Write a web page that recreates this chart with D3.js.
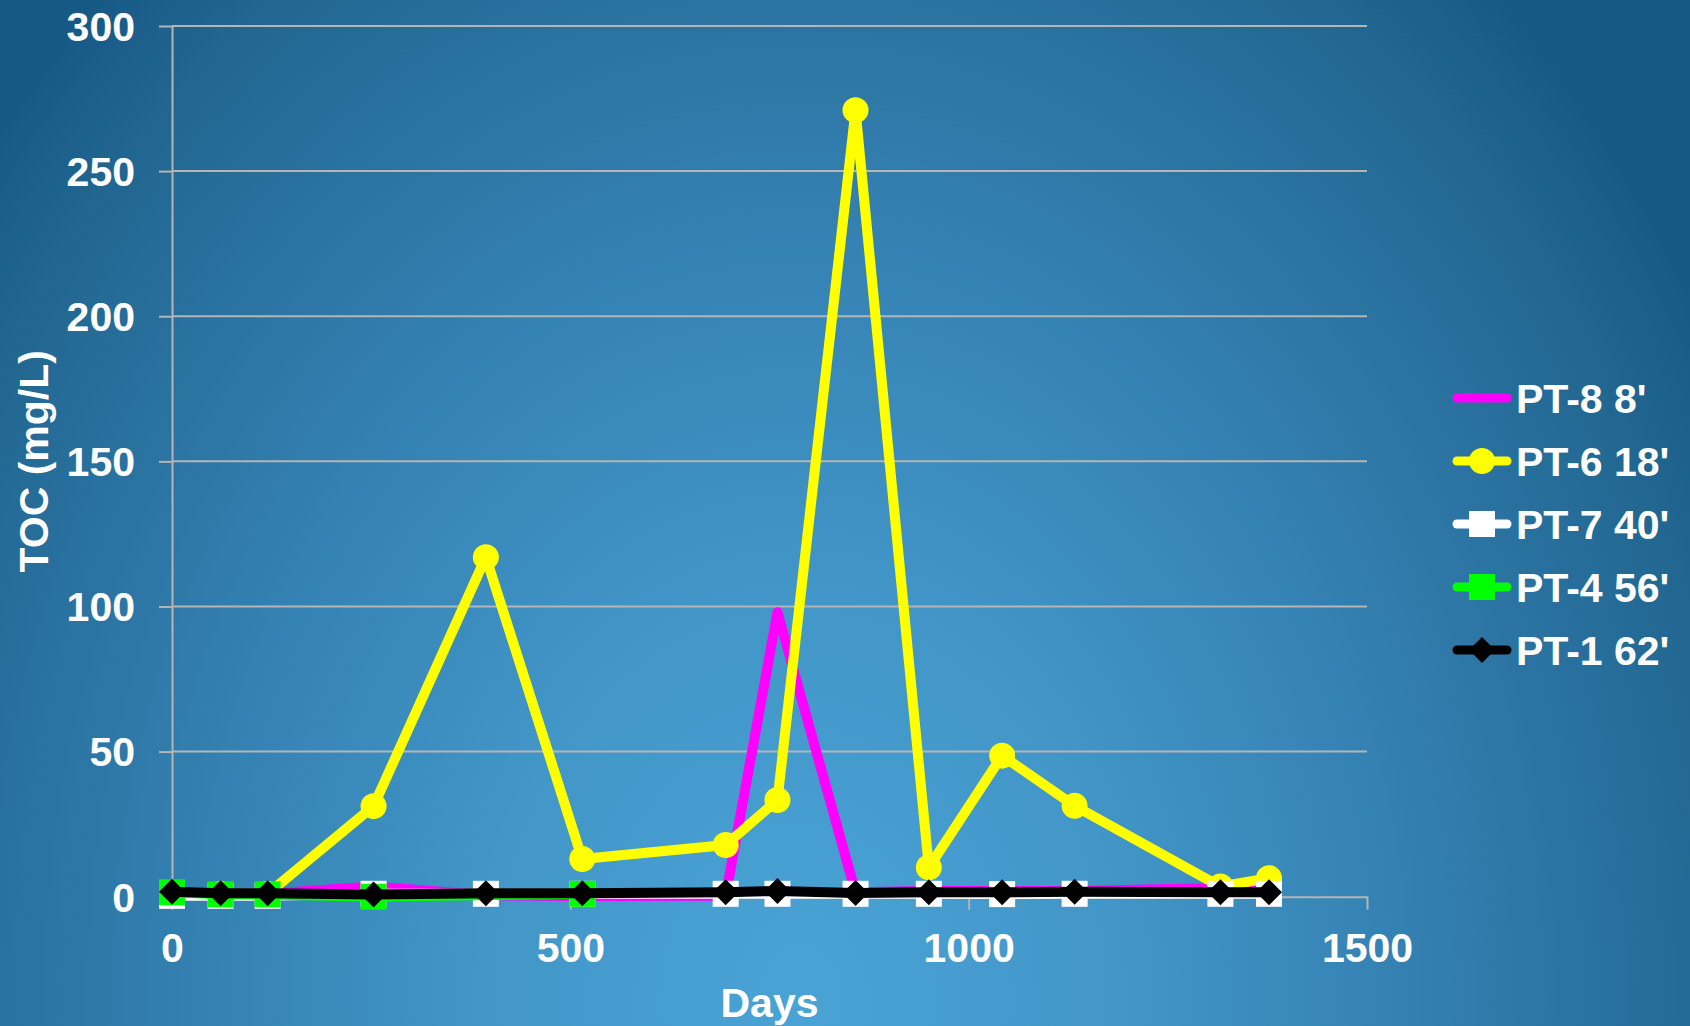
<!DOCTYPE html>
<html>
<head>
<meta charset="utf-8">
<script src="https://cdn.jsdelivr.net/npm/d3@7/dist/d3.min.js"></script>
<style>
  html, body { margin: 0; padding: 0; background: #1b5f8c; }
  svg { display: block; }
  text { font-family: "Liberation Sans", Arial, sans-serif; font-weight: bold; fill: #ffffff; }
</style>
</head>
<body>
<svg id="chart" width="1690" height="1026"></svg>
<script>
// Sampling days (x values shared by all wells)
const days = [0, 61, 120, 253, 394, 515, 695, 760, 858, 950, 1042, 1133, 1316, 1377];

// TOC (mg/L) per monitoring point; null = not sampled
const pt8 = [1, 1, 1, 3.5, 0.5, 0.2, 0.3, 98, 1.5, 2, 2, 2, 3, 1.5];
const pt6 = [1, 1, 1, 31.2, 117, 13, 17.8, 33.3, 271, 10.1, 48.6, 31.3, 3.5, 6.4];
const pt7 = [0.3, 0.3, 0.3, 1, 1, 1, 1, 1, 1, 1, 0.9, 1, 1, 1];
const pt4 = [1.5, 0.8, 0.8, 0, null, 1, null, null, null, null, null, null, null, null];
const pt1 = [1.7, 1.2, 1.2, 0.8, 1.2, 1.2, 1.5, 2.0, 1.3, 1.5, 1.5, 1.7, 1.5, 1.5];

const seriesNames = ["PT-8 8'", "PT-6 18'", "PT-7 40'", "PT-4 56'", "PT-1 62'"];
const seriesValues = [pt8, pt6, pt7, pt4, pt1];
const seriesColors = ["#ff00ff", "#ffff00", "#ffffff", "#00ff00", "#000000"];
const seriesMarkers = ["none", "circle", "square", "square", "diamond"];

const yTicks = [0, 50, 100, 150, 200, 250, 300];
const xTicks = [0, 500, 1000, 1500];

const W = 1690, H = 1026;
const plot = { left: 172, right: 1367, top: 26, bottom: 896.7 };
const FONT = 41;

const svg = d3.select("#chart");

// Background: soft elliptical glow, light at the bottom middle
const defs = svg.append("defs");
const grad = defs.append("radialGradient")
  .attr("id", "bg")
  .attr("gradientUnits", "userSpaceOnUse")
  .attr("cx", 0).attr("cy", 0).attr("r", 1)
  .attr("gradientTransform", "translate(800 1000) scale(1050 1350)");
[[0, "#4aa3d5"], [0.3, "#4296c8"], [0.55, "#3583b4"], [0.75, "#2a72a0"], [0.9, "#206690"], [1, "#175985"]]
  .forEach(([o, c]) => grad.append("stop").attr("offset", o).attr("stop-color", c));
svg.append("rect").attr("width", W).attr("height", H).attr("fill", "url(#bg)");

const x = d3.scaleLinear().domain([0, 1500]).range([plot.left, plot.right]);
const y = d3.scaleLinear().domain([0, 300]).range([plot.bottom, plot.top]);

const gridColor = "#b5b5b5";
const fontFamily = "'Liberation Sans', Arial, sans-serif";

// Horizontal gridlines
svg.append("g").selectAll("line").data(yTicks.filter(d => d > 0)).join("line")
  .attr("x1", plot.left).attr("x2", plot.right)
  .attr("y1", d => y(d)).attr("y2", d => y(d))
  .attr("stroke", gridColor).attr("stroke-width", 2);

// Y axis
const yAxis = svg.append("g")
  .attr("transform", `translate(${plot.left},0)`)
  .call(d3.axisLeft(y).tickValues(yTicks).tickFormat(d3.format("d"))
    .tickSize(13).tickSizeOuter(0).tickPadding(24));
yAxis.select(".domain").attr("stroke", gridColor).attr("stroke-width", 2);
yAxis.selectAll(".tick line").attr("stroke", gridColor).attr("stroke-width", 2);
yAxis.selectAll(".tick text")
  .attr("font-size", FONT).attr("dy", "0.35em").attr("fill", "#ffffff")
  .style("font-family", fontFamily).style("font-weight", "bold");

// X axis
const xAxis = svg.append("g")
  .attr("transform", `translate(0,${plot.bottom})`)
  .call(d3.axisBottom(x).tickValues(xTicks).tickFormat(d3.format("d"))
    .tickSize(13).tickSizeOuter(0).tickPadding(20));
xAxis.select(".domain").attr("stroke", gridColor).attr("stroke-width", 2);
xAxis.selectAll(".tick line").attr("stroke", gridColor).attr("stroke-width", 2);
xAxis.selectAll(".tick text")
  .attr("font-size", FONT).attr("y", 65).attr("dy", 0).attr("fill", "#ffffff")
  .style("font-family", fontFamily).style("font-weight", "bold");

// Axis titles
svg.append("text")
  .attr("x", (plot.left + plot.right) / 2).attr("y", 1017)
  .attr("text-anchor", "middle").attr("font-size", FONT)
  .text("Days");
svg.append("text")
  .attr("transform", `translate(48,${(plot.top + plot.bottom) / 2}) rotate(-90)`)
  .attr("text-anchor", "middle").attr("font-size", FONT)
  .text("TOC (mg/L)");

// Marker drawing helper
const MS = 13; // marker half-size
function drawMarker(g, type, cx, cy, color) {
  if (type === "circle") {
    g.append("circle").attr("cx", cx).attr("cy", cy).attr("r", MS).attr("fill", color);
  } else if (type === "square") {
    g.append("rect").attr("x", cx - MS).attr("y", cy - MS)
      .attr("width", 2 * MS).attr("height", 2 * MS).attr("fill", color);
  } else if (type === "diamond") {
    g.append("path")
      .attr("d", `M${cx},${cy - MS}L${cx + MS},${cy}L${cx},${cy + MS}L${cx - MS},${cy}Z`)
      .attr("fill", color);
  }
}

// Series: each line followed by its markers, in legend order
seriesValues.forEach((vals, i) => {
  const pts = days.map((d, k) => ({ d, v: vals[k] })).filter(p => p.v !== null);
  const g = svg.append("g");
  const line = d3.line().x(p => x(p.d)).y(p => y(p.v));
  g.append("path").datum(pts)
    .attr("d", line)
    .attr("fill", "none")
    .attr("stroke", seriesColors[i])
    .attr("stroke-width", 10)
    .attr("stroke-linejoin", "round")
    .attr("stroke-linecap", "butt");
  if (seriesMarkers[i] !== "none") {
    pts.forEach(p => drawMarker(g, seriesMarkers[i], x(p.d), y(p.v), seriesColors[i]));
  }
});

// Legend
const leg = svg.append("g");
seriesNames.forEach((name, i) => {
  const cy = 398 + i * 63;
  leg.append("line")
    .attr("x1", 1457).attr("x2", 1507).attr("y1", cy).attr("y2", cy)
    .attr("stroke", seriesColors[i]).attr("stroke-width", 9).attr("stroke-linecap", "round");
  drawMarker(leg, seriesMarkers[i], 1482, cy, seriesColors[i]);
  leg.append("text")
    .attr("x", 1516).attr("y", cy + 14.5)
    .attr("font-size", FONT)
    .text(name);
});
</script>
</body>
</html>
